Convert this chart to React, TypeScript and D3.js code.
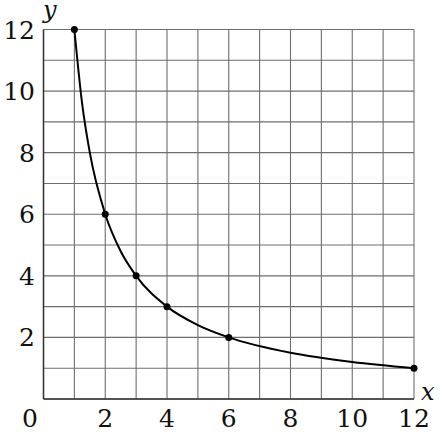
import { useEffect, useRef } from 'react';
import * as d3 from 'd3';

// ─── Data ───────────────────────────────────────────────────

const X_TICKS = [2, 4, 6, 8, 10, 12];
const Y_TICKS = [2, 4, 6, 8, 10, 12];
const GRID_STEPS = [0, 1, 2, 3, 4, 5, 6, 7, 8, 9, 10, 11, 12];

// marked points on the curve
const DOT_X = [1, 2, 3, 4, 6, 12];
const DOT_Y = [12, 6, 4, 3, 2, 1];

// curve
const CURVE_X = [1, 1.25, 1.5, 2, 2.5, 3, 4, 5, 6, 8, 10, 12];
const CURVE_Y = [12, 9.6, 8, 6, 4.8, 4, 3, 2.4, 2, 1.5, 1.2, 1];

const W = 440;
const H = 432;
const FONT = "'DejaVu Serif', serif";

export default function App() {
  const svgRef = useRef<SVGSVGElement>(null);

  useEffect(() => {
    if (!svgRef.current) return;
    const svg = d3.select(svgRef.current);
    svg.selectAll('*').remove();

    const x = d3.scaleLinear().domain([0, 12]).range([43.5, 414]);
    const y = d3.scaleLinear().domain([0, 12]).range([399, 29.5]);

    // Grid
    const grid = svg.append('g').attr('stroke', '#6e6e6e').attr('stroke-width', 1.1);
    grid.selectAll('line.v')
      .data(GRID_STEPS)
      .join('line')
      .attr('class', 'v')
      .attr('x1', (d) => x(d)).attr('x2', (d) => x(d))
      .attr('y1', y(0)).attr('y2', y(12));
    grid.selectAll('line.h')
      .data(GRID_STEPS)
      .join('line')
      .attr('class', 'h')
      .attr('x1', x(0)).attr('x2', x(12))
      .attr('y1', (d) => y(d)).attr('y2', (d) => y(d));

    // Axes (darker left/bottom)
    svg.append('line')
      .attr('x1', x(0)).attr('x2', x(0)).attr('y1', y(0)).attr('y2', y(12))
      .attr('stroke', '#333').attr('stroke-width', 1.5);
    svg.append('line')
      .attr('x1', x(0)).attr('x2', x(12)).attr('y1', y(0)).attr('y2', y(0))
      .attr('stroke', '#333').attr('stroke-width', 1.5);

    // Curve
    const pts = CURVE_X.map((v, i) => [v, CURVE_Y[i]] as [number, number]);
    const line = d3.line<[number, number]>()
      .x((d) => x(d[0]))
      .y((d) => y(d[1]))
      .curve(d3.curveMonotoneX);
    svg.append('path')
      .datum(pts)
      .attr('fill', 'none')
      .attr('stroke', '#000')
      .attr('stroke-width', 2)
      .attr('d', line);

    // Dots
    svg.append('g').selectAll('circle')
      .data(DOT_X.map((v, i) => [v, DOT_Y[i]]))
      .join('circle')
      .attr('cx', (d) => x(d[0]))
      .attr('cy', (d) => y(d[1]))
      .attr('r', 3.5)
      .attr('fill', '#000');

    // Tick labels
    const txt = svg.append('g').style('font-family', FONT).style('font-size', '25px').attr('fill', '#111');
    txt.selectAll('text.y')
      .data(Y_TICKS)
      .join('text')
      .attr('class', 'y')
      .attr('x', 35)
      .attr('y', (d) => y(d))
      .attr('dy', '0.36em')
      .attr('text-anchor', 'end')
      .text((d) => d);
    txt.selectAll('text.x')
      .data(X_TICKS)
      .join('text')
      .attr('class', 'x')
      .attr('x', (d) => x(d))
      .attr('y', 427)
      .attr('text-anchor', 'middle')
      .text((d) => d);
    txt.append('text')
      .attr('x', 30).attr('y', 427)
      .attr('text-anchor', 'middle')
      .text('0');

    // Axis names
    const names = svg.append('g').style('font-family', FONT).style('font-size', '24px')
      .style('font-style', 'italic').attr('fill', '#111');
    names.append('text').attr('x', 43).attr('y', 18).text('y');
    names.append('text').attr('x', 421).attr('y', 400).text('x');
  }, []);

  return (
    <svg
      ref={svgRef}
      width={W}
      height={H}
      style={{ position: 'absolute', left: 0, top: 0, background: '#fff' }}
    />
  );
}
